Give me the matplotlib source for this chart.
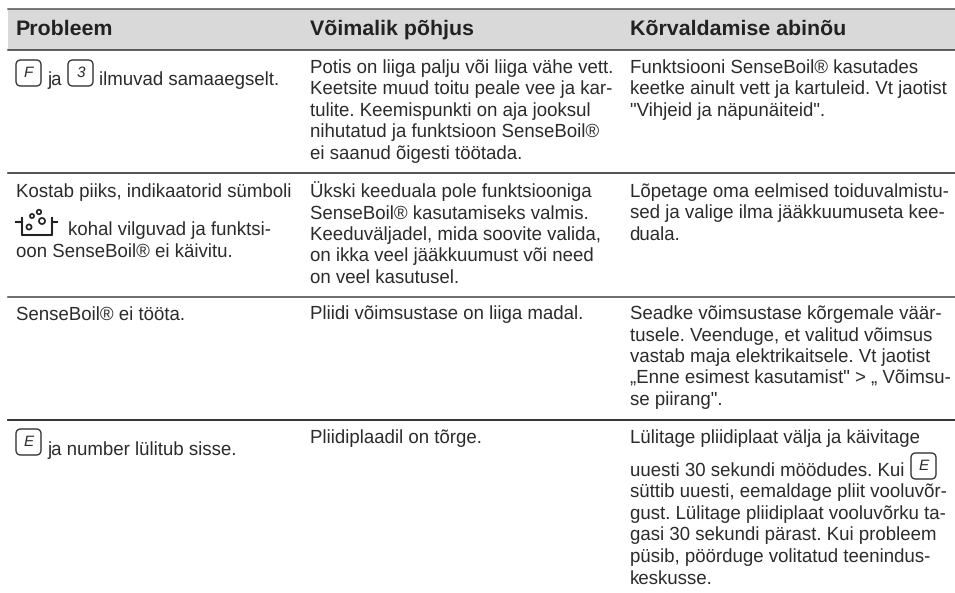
import matplotlib
matplotlib.use("Agg")
import matplotlib.pyplot as plt
from matplotlib.patches import FancyBboxPatch, Circle, Rectangle

headers = ["Probleem", "Võimalik põhjus", "Kõrvaldamise abinõu"]

row1_problem = ["ja", "ilmuvad samaaegselt."]
row1_cause = ["Potis on liiga palju või liiga vähe vett.",
              "Keetsite muud toitu peale vee ja kar-",
              "tulite. Keemispunkti on aja jooksul",
              "nihutatud ja funktsioon SenseBoil®",
              "ei saanud õigesti töötada."]
row1_fix = ["Funktsiooni SenseBoil® kasutades",
            "keetke ainult vett ja kartuleid. Vt jaotist",
            "\"Vihjeid ja näpunäiteid\"."]

row2_problem = ["Kostab piiks, indikaatorid sümboli",
                "kohal vilguvad ja funktsi-",
                "oon SenseBoil® ei käivitu."]
row2_cause = ["Ükski keeduala pole funktsiooniga",
              "SenseBoil® kasutamiseks valmis.",
              "Keeduväljadel, mida soovite valida,",
              "on ikka veel jääkkuumust või need",
              "on veel kasutusel."]
row2_fix = ["Lõpetage oma eelmised toiduvalmistu-",
            "sed ja valige ilma jääkkuumuseta kee-",
            "duala."]

row3_problem = ["SenseBoil® ei tööta."]
row3_cause = ["Pliidi võimsustase on liiga madal."]
row3_fix = ["Seadke võimsustase kõrgemale väär-",
            "tusele. Veenduge, et valitud võimsus",
            "vastab maja elektrikaitsele. Vt jaotist",
            "„Enne esimest kasutamist\" > „ Võimsu-",
            "se piirang\"."]

row4_problem = ["ja number lülitub sisse."]
row4_cause = ["Pliidiplaadil on tõrge."]
row4_fix_top = "Lülitage pliidiplaat välja ja käivitage"
row4_fix = ["uuesti 30 sekundi möödudes. Kui",
            "süttib uuesti, eemaldage pliit vooluvõr-",
            "gust. Lülitage pliidiplaat vooluvõrku ta-",
            "gasi 30 sekundi pärast. Kui probleem",
            "püsib, pöörduge volitatud teenindus-",
            "keskusse."]

plt.rcParams['font.family'] = ['Liberation Sans', 'DejaVu Sans']
plt.rcParams['text.hinting'] = 'none'

TXT = "#2b2b2b"
fig = plt.figure(figsize=(9.55, 5.93), dpi=100)
ax = fig.add_axes([0, 0, 1, 1])
ax.set_xlim(0, 955)
ax.set_ylim(593, 0)
ax.axis('off')

col_x = [15.5, 309.5, 629.5]
LEFT, RIGHT = 8, 955
FS = 13.4
STEP = 21.5


def block(x, y, lines):
    for i, s in enumerate(lines):
        ax.text(x, y + i * STEP, s, fontsize=FS, color=TXT, va='baseline', ha='left')


def key(x, y, letter):
    ax.add_patch(FancyBboxPatch((x, y), 25, 26, boxstyle="round,pad=0,rounding_size=5",
                                fc='white', ec='#333333', lw=1.0))
    ax.text(x + 12.5, y + 13, letter, fontsize=11, style='italic', color=TXT, ha='center', va='center')


def pot(x, y):
    ax.plot([x, x + 6], [y + 4, y + 4], color='#222222', lw=1.5)
    ax.plot([x + 36, x + 41], [y + 4, y + 4], color='#222222', lw=1.5)
    ax.plot([x + 6, x + 6, x + 36, x + 36], [y, y + 17, y + 17, y], color='#222222', lw=1.5)
    for cx, cy, r in [(13, 9, 2.5), (26, 3, 3), (16, -2, 2), (23, -6, 2.2)]:
        ax.add_patch(Circle((x + cx, y + cy), r, fc='white', ec='#222222', lw=1.3))


# header band
ax.add_patch(Rectangle((LEFT, 9), RIGHT - LEFT, 41, fc='#d9d9d9', ec='none'))
ax.plot([LEFT, RIGHT], [9, 9], color='#555555', lw=1.1)
for x, h in zip(col_x, headers):
    ax.text(x, 35, h, fontsize=15.4, fontweight='bold', color='#222222', va='baseline')

ax.plot([LEFT, RIGHT], [50, 50], color='#333333', lw=1.1)
ax.plot([LEFT, RIGHT], [172.5, 172.5], color='#222222', lw=1.1)
ax.plot([LEFT, RIGHT], [296.5, 296.5], color='#444444', lw=1.1)
ax.plot([LEFT, RIGHT], [420, 420], color='#222222', lw=1.3)

# row 1
key(16, 60, "F")
ax.text(47, 85, row1_problem[0], fontsize=FS, color=TXT, va='baseline')
key(68, 60, "3")
ax.text(99, 85, row1_problem[1], fontsize=FS, color=TXT, va='baseline')
block(col_x[1], 73, row1_cause)
block(col_x[2], 73, row1_fix)

# row 2
ax.text(col_x[0], 197, row2_problem[0], fontsize=FS, color=TXT)
pot(16, 218)
ax.text(68, 235, row2_problem[1], fontsize=FS, color=TXT)
ax.text(col_x[0], 257, row2_problem[2], fontsize=FS, color=TXT)
block(col_x[1], 197, row2_cause)
block(col_x[2], 197, row2_fix)

# row 3
block(col_x[0], 319.5, row3_problem)
block(col_x[1], 319.5, row3_cause)
block(col_x[2], 319.5, row3_fix)

# row 4
key(16, 429, "E")
ax.text(47, 455, row4_problem[0], fontsize=FS, color=TXT)
block(col_x[1], 443, row4_cause)
ax.text(col_x[2], 443, row4_fix_top, fontsize=FS, color=TXT)
block(col_x[2], 476, row4_fix)
key(911, 453, "E")

fig.savefig("out.png", dpi=100)
